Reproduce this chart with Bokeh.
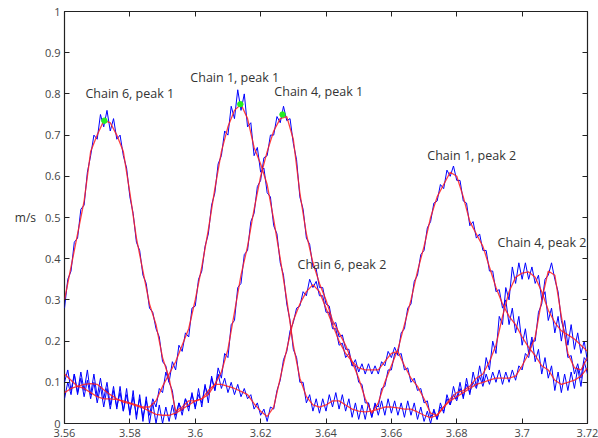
from bokeh.plotting import figure
from bokeh.models import LinearAxis, FixedTicker, Label, Range1d, CustomLabelingPolicy
from bokeh.embed import file_html
from bokeh.resources import INLINE

# sampling grids (fit every 0.002 s, raw every 0.001 s)
x_fit = [round(3.56 + 0.002 * i, 3) for i in range(81)]
x_raw = [round(3.56 + 0.001 * i, 3) for i in range(161)]

chain6_fit = [0.30, 0.38, 0.46, 0.54, 0.66, 0.70, 0.735, 0.73, 0.70, 0.66,
              0.56, 0.45, 0.37, 0.29, 0.24, 0.16, 0.11, 0.03, 0.04, 0.055,
              0.055, 0.06, 0.08, 0.095, 0.095, 0.09, 0.085, 0.078, 0.07, 0.048,
              0.03, 0.017, 0.04, 0.11, 0.18, 0.25, 0.29, 0.32, 0.337, 0.32,
              0.28, 0.24, 0.20, 0.17, 0.15, 0.135, 0.13, 0.13, 0.13, 0.15,
              0.17, 0.175, 0.14, 0.11, 0.09, 0.06, 0.025, 0.02, 0.04, 0.055,
              0.065, 0.075, 0.085, 0.095, 0.10, 0.105, 0.11, 0.11, 0.11, 0.115,
              0.14, 0.17, 0.21, 0.30, 0.37, 0.36, 0.26, 0.17, 0.135, 0.13,
              0.16]
chain6_raw = [0.28, 0.35, 0.37, 0.44, 0.45, 0.52, 0.53, 0.61, 0.65, 0.70,
              0.69, 0.75, 0.72, 0.76, 0.71, 0.74, 0.69, 0.70, 0.65, 0.62,
              0.55, 0.51, 0.44, 0.42, 0.36, 0.34, 0.28, 0.27, 0.23, 0.21,
              0.15, 0.14, 0.10, 0.08, 0.02, 0.05, 0.03, 0.06, 0.04, 0.07,
              0.04, 0.07, 0.05, 0.09, 0.07, 0.11, 0.08, 0.12, 0.085, 0.11,
              0.075, 0.10, 0.07, 0.095, 0.065, 0.085, 0.06, 0.07, 0.035, 0.05,
              0.02, 0.035, 0.005, 0.04, 0.035, 0.08, 0.105, 0.155, 0.175, 0.225,
              0.245, 0.28, 0.285, 0.32, 0.31, 0.35, 0.33, 0.345, 0.31, 0.31,
              0.27, 0.27, 0.23, 0.23, 0.19, 0.195, 0.16, 0.17, 0.14, 0.155,
              0.125, 0.145, 0.12, 0.145, 0.12, 0.14, 0.12, 0.15, 0.14, 0.175,
              0.16, 0.185, 0.165, 0.17, 0.13, 0.135, 0.10, 0.11, 0.08, 0.085,
              0.05, 0.055, 0.015, 0.03, 0.01, 0.04, 0.03, 0.06, 0.045, 0.07,
              0.055, 0.085, 0.065, 0.095, 0.075, 0.10, 0.085, 0.115, 0.09, 0.12,
              0.095, 0.125, 0.10, 0.13, 0.095, 0.125, 0.10, 0.13, 0.105, 0.14,
              0.13, 0.17, 0.16, 0.20, 0.20, 0.27, 0.29, 0.35, 0.36, 0.39,
              0.35, 0.32, 0.25, 0.22, 0.16, 0.165, 0.12, 0.145, 0.11, 0.16,
              0.15]

chain1_fit = [0.12, 0.105, 0.09, 0.085, 0.075, 0.065, 0.06, 0.06, 0.058, 0.055,
              0.05, 0.045, 0.04, 0.04, 0.055, 0.09, 0.12, 0.15, 0.19, 0.23,
              0.30, 0.38, 0.47, 0.57, 0.66, 0.72, 0.76, 0.775, 0.74, 0.67,
              0.63, 0.58, 0.495, 0.40, 0.30, 0.19, 0.11, 0.065, 0.045, 0.04,
              0.045, 0.055, 0.055, 0.045, 0.035, 0.03, 0.028, 0.03, 0.035, 0.04,
              0.04, 0.038, 0.035, 0.035, 0.028, 0.02, 0.014, 0.02, 0.04, 0.06,
              0.075, 0.08, 0.09, 0.11, 0.12, 0.15, 0.19, 0.26, 0.32, 0.355,
              0.365, 0.368, 0.355, 0.32, 0.275, 0.245, 0.225, 0.215, 0.205, 0.19,
              0.175]
chain1_raw = [0.10, 0.13, 0.08, 0.12, 0.07, 0.11, 0.065, 0.105, 0.06, 0.10,
              0.05, 0.09, 0.04, 0.085, 0.035, 0.08, 0.04, 0.075, 0.03, 0.07,
              0.025, 0.065, 0.02, 0.06, 0.015, 0.055, 0.02, 0.06, 0.04, 0.085,
              0.075, 0.125, 0.10, 0.15, 0.13, 0.19, 0.175, 0.22, 0.21, 0.28,
              0.285, 0.35, 0.37, 0.43, 0.46, 0.53, 0.56, 0.63, 0.65, 0.71,
              0.70, 0.77, 0.74, 0.81, 0.76, 0.80, 0.72, 0.73, 0.65, 0.67,
              0.61, 0.62, 0.56, 0.55, 0.48, 0.46, 0.39, 0.36, 0.29, 0.25,
              0.18, 0.16, 0.10, 0.10, 0.05, 0.07, 0.03, 0.06, 0.025, 0.06,
              0.03, 0.07, 0.04, 0.075, 0.035, 0.07, 0.03, 0.06, 0.015, 0.05,
              0.01, 0.045, 0.01, 0.05, 0.015, 0.05, 0.02, 0.055, 0.02, 0.06,
              0.025, 0.055, 0.02, 0.05, 0.015, 0.055, 0.02, 0.05, 0.01, 0.04,
              0.005, 0.03, 0.0, 0.035, 0.01, 0.05, 0.025, 0.07, 0.045, 0.09,
              0.06, 0.10, 0.06, 0.11, 0.07, 0.125, 0.09, 0.14, 0.10, 0.16,
              0.13, 0.20, 0.17, 0.26, 0.24, 0.33, 0.30, 0.38, 0.34, 0.39,
              0.35, 0.39, 0.35, 0.38, 0.34, 0.36, 0.30, 0.32, 0.25, 0.28,
              0.22, 0.26, 0.20, 0.25, 0.19, 0.24, 0.18, 0.22, 0.17, 0.20,
              0.15]

chain4_fit = [0.075, 0.085, 0.09, 0.095, 0.097, 0.095, 0.082, 0.07, 0.06, 0.052,
              0.048, 0.043, 0.038, 0.03, 0.022, 0.02, 0.02, 0.025, 0.035, 0.045,
              0.055, 0.06, 0.07, 0.095, 0.125, 0.18, 0.27, 0.36, 0.43, 0.52,
              0.60, 0.66, 0.71, 0.74, 0.745, 0.69, 0.56, 0.46, 0.39, 0.34,
              0.30, 0.25, 0.22, 0.19, 0.15, 0.11, 0.06, 0.025, 0.05, 0.10,
              0.14, 0.18, 0.24, 0.30, 0.37, 0.43, 0.50, 0.55, 0.58, 0.61,
              0.60, 0.55, 0.49, 0.46, 0.43, 0.38, 0.33, 0.29, 0.26, 0.24,
              0.21, 0.185, 0.165, 0.14, 0.13, 0.105, 0.095, 0.10, 0.105, 0.115,
              0.135]
chain4_raw = [0.06, 0.10, 0.07, 0.12, 0.075, 0.125, 0.08, 0.13, 0.07, 0.12,
              0.065, 0.11, 0.06, 0.10, 0.045, 0.09, 0.035, 0.09, 0.03, 0.085,
              0.02, 0.08, 0.01, 0.07, 0.005, 0.065, 0.0, 0.05, 0.0, 0.045,
              0.0, 0.04, 0.005, 0.045, 0.01, 0.05, 0.02, 0.06, 0.03, 0.075,
              0.035, 0.085, 0.04, 0.095, 0.05, 0.115, 0.08, 0.135, 0.11, 0.17,
              0.16, 0.24, 0.25, 0.33, 0.34, 0.41, 0.42, 0.49, 0.51, 0.575,
              0.59, 0.645, 0.65, 0.70, 0.70, 0.745, 0.73, 0.77, 0.735, 0.74,
              0.68, 0.64, 0.55, 0.52, 0.45, 0.435, 0.38, 0.375, 0.33, 0.33,
              0.29, 0.285, 0.24, 0.245, 0.21, 0.215, 0.18, 0.18, 0.14, 0.14,
              0.10, 0.095, 0.05, 0.05, 0.015, 0.045, 0.04, 0.085, 0.09, 0.13,
              0.13, 0.17, 0.17, 0.22, 0.23, 0.28, 0.29, 0.345, 0.36, 0.41,
              0.42, 0.475, 0.49, 0.535, 0.54, 0.58, 0.57, 0.615, 0.60, 0.625,
              0.59, 0.59, 0.54, 0.535, 0.48, 0.49, 0.45, 0.46, 0.42, 0.42,
              0.37, 0.37, 0.32, 0.325, 0.28, 0.30, 0.24, 0.28, 0.22, 0.26,
              0.19, 0.23, 0.17, 0.21, 0.15, 0.18, 0.12, 0.16, 0.11, 0.14,
              0.08, 0.125, 0.075, 0.12, 0.08, 0.125, 0.085, 0.135, 0.09, 0.15,
              0.12]

peak_x = [3.5722, 3.6138, 3.6267]
peak_y = [0.735, 0.775, 0.75]

label_text = ["Chain 6, peak 1", "Chain 1, peak 1", "Chain 4, peak 1",
              "Chain 6, peak 2", "Chain 1, peak 2", "Chain 4, peak 2"]
label_x = [3.5664, 3.5985, 3.6242, 3.6313, 3.6710, 3.6925]
label_y = [0.800, 0.839, 0.806, 0.385, 0.650, 0.439]

x_ticks = [3.56, 3.58, 3.6, 3.62, 3.64, 3.66, 3.68, 3.7, 3.72]
x_tick_labels = ["3.56", "3.58", "3.6", "3.62", "3.64", "3.66", "3.68", "3.7", "3.72"]
y_ticks = [0, 0.1, 0.2, 0.3, 0.4, 0.5, 0.6, 0.7, 0.8, 0.9, 1]
y_tick_labels = ["0", "0.1", "0.2", "0.3", "0.4", "0.5", "0.6", "0.7", "0.8", "0.9", "1"]

FONT = "Open Sans"

p = figure(output_backend="svg", toolbar_location=None,
           frame_width=523, frame_height=412,
           min_border_left=64, min_border_right=10, min_border_top=5, min_border_bottom=20,
           x_range=Range1d(3.56, 3.72), y_range=Range1d(0, 1))
p.xgrid.visible = False
p.ygrid.visible = False
p.outline_line_color = "#222222"
p.outline_line_width = 1.2
p.background_fill_color = "white"
p.border_fill_color = "white"

hide_labels = CustomLabelingPolicy(code="return new indices.constructor(indices.size, 0);")

def style_axis(ax, ticks, labels, show_labels):
    ax.ticker = FixedTicker(ticks=ticks)
    ax.major_label_overrides = {t: l for t, l in zip(ticks, labels)}
    ax.major_tick_in = 5
    ax.major_tick_out = 0
    ax.minor_tick_line_color = None
    ax.axis_line_color = None
    ax.major_tick_line_color = "#222222"
    ax.major_label_text_font = FONT
    ax.major_label_text_font_size = "11px"
    ax.major_label_text_color = "#444444"
    if not show_labels:
        ax.major_label_policy = hide_labels
        ax.major_label_standoff = 0

style_axis(p.xaxis[0], x_ticks, x_tick_labels, True)
style_axis(p.yaxis[0], y_ticks, y_tick_labels, True)
p.xaxis[0].major_label_standoff = 5
p.yaxis[0].major_label_standoff = 4
p.yaxis[0].axis_label = "m/s"
p.yaxis[0].axis_label_orientation = "horizontal"
p.yaxis[0].axis_label_text_font = FONT
p.yaxis[0].axis_label_text_font_style = "normal"
p.yaxis[0].axis_label_text_font_size = "12px"
p.yaxis[0].axis_label_text_color = "#333333"
p.yaxis[0].axis_label_standoff = 6

top_ax = LinearAxis()
style_axis(top_ax, x_ticks, x_tick_labels, False)
p.add_layout(top_ax, "above")
right_ax = LinearAxis()
style_axis(right_ax, y_ticks, y_tick_labels, False)
p.add_layout(right_ax, "right")

for raw in (chain6_raw, chain1_raw, chain4_raw):
    p.line(x_raw, raw, line_color="#0000ff", line_width=1.0)
for fit in (chain6_fit, chain1_fit, chain4_fit):
    p.line(x_fit, fit, line_color="#ff2020", line_width=1.3, line_alpha=0.85)

p.scatter(peak_x, peak_y, size=5.5, marker="circle", fill_color="#22ee22", line_color="#22ee22")

for t, lx, ly in zip(label_text, label_x, label_y):
    p.add_layout(Label(x=lx, y=ly, text=t, text_font=FONT, text_font_size="12.5px",
                       text_color="#333333", text_baseline="middle", text_align="left"))

open("out.html", "w").write(file_html(p, INLINE))
